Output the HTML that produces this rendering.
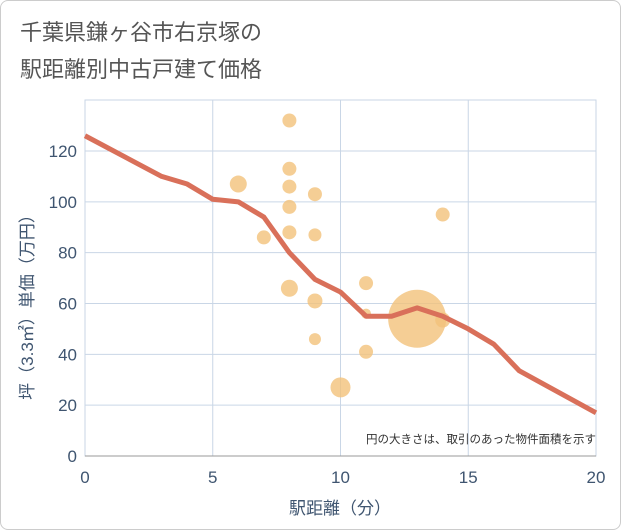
<!DOCTYPE html>
<html><head><meta charset="utf-8"><style>
body{margin:0;background:#fff;font-family:"Liberation Sans","Noto Sans CJK JP",sans-serif;}
#wrap{position:relative;width:619px;height:528px;border:1px solid #ccc;border-radius:8px;background:#fff;overflow:hidden}
</style></head><body>
<div id="wrap">
<svg id="chart" width="621" height="530" style="position:absolute;left:-1px;top:-1px">
<text x="20" y="40" font-size="22" fill="#555">千葉県鎌ヶ谷市右京塚の</text>
<text x="20" y="77" font-size="22" fill="#555">駅距離別中古戸建て価格</text>
<g id="grid"></g><g id="bubbles"></g><g id="line"></g><g id="axes"></g>
<text x="596" y="443" font-size="11.5" fill="#333" text-anchor="end">円の大きさは、取引のあった物件面積を示す</text>
<text x="340" y="514" font-size="17" fill="#3f5570" text-anchor="middle">駅距離（分）</text>
<text transform="translate(33,303) rotate(-90)" font-size="17" fill="#3f5570" text-anchor="middle">坪（3.3㎡）単価（万円）</text>
</svg></div>
<script>
const xTicks=[0,5,10,15,20];
const yTicks=[0,20,40,60,80,100,120];
const lineX=[0,3,4,5,6,7,8,9,10,11,12,13,14,15,16,17,20];
const lineY=[126,110,107,101,100,94,80,69.5,64.5,55,55,58.3,55,50,44,33.5,17];
const bubX=[8,8,6,8,9,8,14,8,9,7,11,8,9,11,13,14,9,11,10];
const bubY=[132,113,107,106,103,98,95,88,87,86,68,66,61,56,54,53.5,46,41,27];
const bubR=[7,7,8.5,7,7,7,7,7,6.5,7,7,8.5,7.5,5,29,7.5,6,7,10];
const X0=85,X1=596,Y0=456,Y1=151;
const sx=v=>X0+(X1-X0)*v/20, sy=v=>Y0-(Y0-Y1)*v/120;
const NS="http://www.w3.org/2000/svg";
function mk(p,t,a){const e=document.createElementNS(NS,t);for(const k in a)e.setAttribute(k,a[k]);document.getElementById(p).appendChild(e);return e;}
let e=mk('grid','rect',{x:X0,y:100,width:X1-X0,height:Y0-100,fill:'none',stroke:'#c9d6e6'});


xTicks.forEach(t=>{if(t>0&&t<20){let l=mk('grid','line',{x1:sx(t),x2:sx(t),y1:100,y2:Y0,stroke:'#c9d6e6'});

}
let tx=mk('axes','text',{x:sx(t),y:483,'font-size':17,fill:'#3f5570','text-anchor':'middle'});tx.textContent=t;

});
yTicks.forEach(t=>{if(t>0){let l=mk('grid','line',{x1:X0,x2:X1,y1:sy(t),y2:sy(t),stroke:'#c9d6e6'});

}
let tx=mk('axes','text',{x:77,y:sy(t)+6,'font-size':17,fill:'#3f5570','text-anchor':'end'});tx.textContent=t;

});
let ax=mk('axes','line',{x1:X0,x2:X1,y1:Y0,y2:Y0,stroke:'#999'});


bubX.forEach((x,i)=>{let c=mk('bubbles','circle',{cx:sx(x),cy:sy(bubY[i]),r:bubR[i],fill:'#f2c27a','fill-opacity':0.8});

});
let p=mk('line','polyline',{points:lineX.map((x,i)=>sx(x)+','+sy(lineY[i])).join(' '),fill:'none',stroke:'#d9705a','stroke-width':5,'stroke-linejoin':'round'});


</script></body></html>
